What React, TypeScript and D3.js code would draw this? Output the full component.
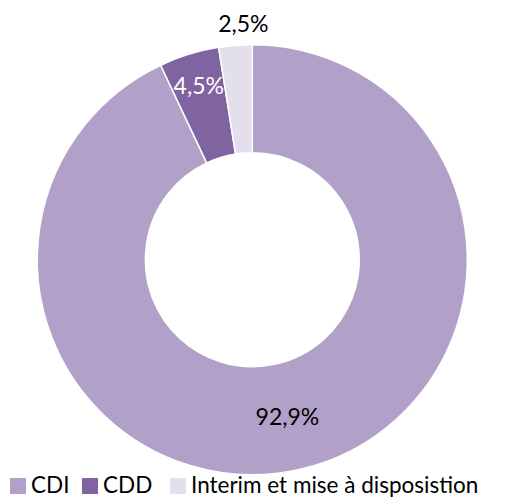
import React from "react";
import * as d3 from "d3";

const categories = ["CDI", "CDD", "Interim et mise à disposistion"];
const values = [92.9, 4.5, 2.5];
const labels = ["92,9%", "4,5%", "2,5%"];
const colors = ["#b1a0c7", "#8064a2", "#e4dfec"];

const W = 506;
const H = 499;
const cx = 252.3;
const cy = 259.7;
const outerR = 215;
const innerR = 107;
const FONT = "Lato, 'Open Sans', sans-serif";

export default function App() {
  const pie = d3.pie<number>().sort(null).value((d) => d);
  const arcs = pie(values);
  const arc = d3.arc<d3.PieArcDatum<number>>().innerRadius(innerR).outerRadius(outerR);

  // label placement: radius and text colour per slice
  const labelPos = (i: number, a: d3.PieArcDatum<number>) => {
    const mid = (a.startAngle + a.endAngle) / 2;
    let r = (innerR + outerR) / 2;
    let ang = mid;
    if (i === 1) r = 182;
    if (i === 2) { r = 236; ang = -0.038; }
    return [Math.sin(ang) * r, -Math.cos(ang) * r];
  };
  const labelColor = ["#000", "#fff", "#000"];

  const legendX = [10, 82, 170];
  return (
    <svg width={W} height={H} style={{ position: "absolute", left: 0, top: 0, background: "#fff" }}>
      <g transform={`translate(${cx},${cy})`}>
        {arcs.map((a, i) => (
          <path key={i} d={arc(a) || ""} fill={colors[i]} stroke="#fff" strokeWidth={1.5} />
        ))}
        {arcs.map((a, i) => {
          const [x, y] = labelPos(i, a);
          return (
            <text key={i} x={x} y={y} dy="0.36em" textAnchor="middle" fontFamily={FONT} fontSize={23} fill={labelColor[i]}>
              {labels[i]}
            </text>
          );
        })}
      </g>
      <g>
        {categories.map((c, i) => (
          <g key={c} transform={`translate(${legendX[i]},0)`}>
            <rect x={0} y={478} width={16} height={16} fill={colors[i]} />
            <text x={21} y={493} fontFamily={FONT} fontSize={22.5} fill="#000">{c}</text>
          </g>
        ))}
      </g>
    </svg>
  );
}
